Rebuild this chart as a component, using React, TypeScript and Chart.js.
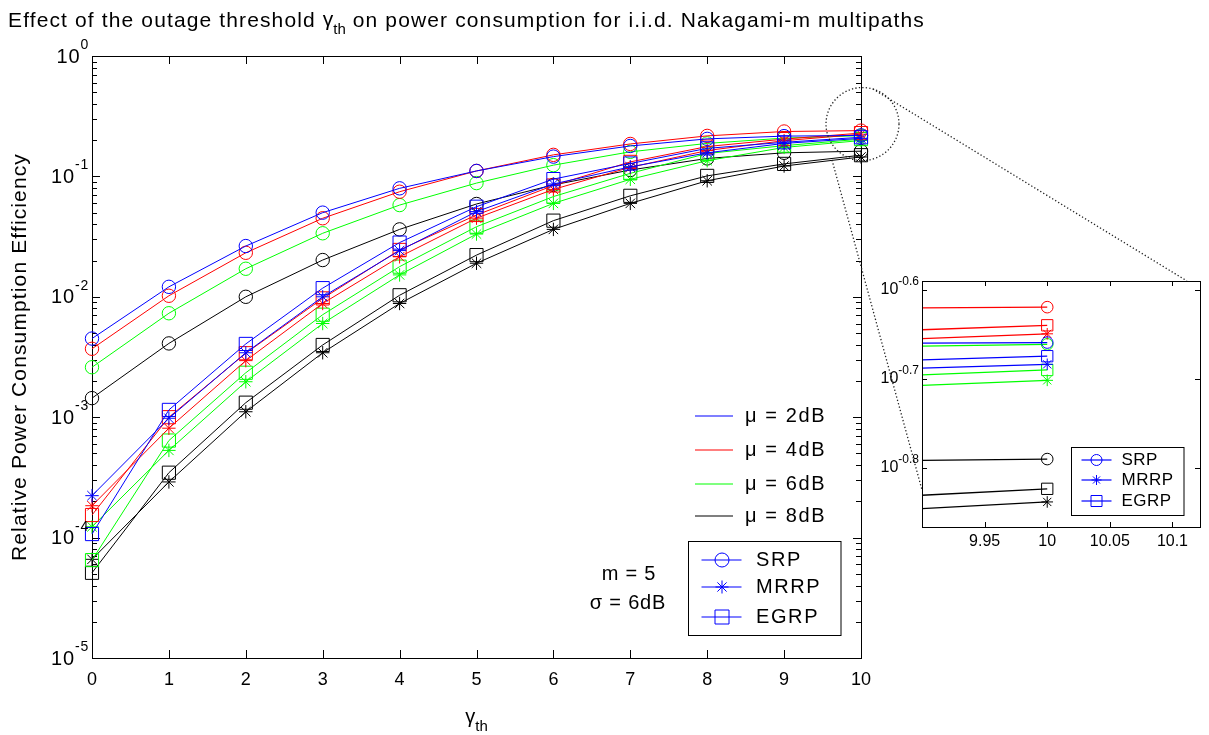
import React, { useEffect, useRef } from "react";
import { Chart, registerables } from "chart.js";

Chart.register(...registerables);

// ---------------- data ----------------
const GAMMA_TH = [0, 1, 2, 3, 4, 5, 6, 7, 8, 9, 10];

// mu = 2 dB
const SRP_MU2 = [4.5e-3, 1.21e-2, 2.64e-2, 5.0e-2, 7.96e-2, 0.111, 0.146, 0.179, 0.205, 0.216, 0.219];
const MRRP_MU2 = [2.23e-4, 9.8e-4, 3.43e-3, 1.0e-2, 2.42e-2, 5.1e-2, 8.65e-2, 0.12, 0.157, 0.188, 0.207];
const EGRP_MU2 = [1.07e-4, 1.15e-3, 4.06e-3, 1.18e-2, 2.82e-2, 5.6e-2, 9.5e-2, 0.128, 0.171, 0.192, 0.2114];
// mu = 4 dB
const SRP_MU4 = [3.7e-3, 1.02e-2, 2.32e-2, 4.49e-2, 7.46e-2, 0.111, 0.151, 0.186, 0.217, 0.236, 0.24];
const MRRP_MU4 = [1.84e-4, 8.1e-4, 2.95e-3, 8.8e-3, 2.15e-2, 4.5e-2, 7.8e-2, 0.119, 0.164, 0.198, 0.224];
const EGRP_MU4 = [1.54e-4, 1.0e-3, 3.4e-3, 9.7e-3, 2.45e-2, 4.78e-2, 8.4e-2, 0.132, 0.177, 0.204, 0.229];
// mu = 6 dB
const SRP_MU6 = [2.6e-3, 7.3e-3, 1.71e-2, 3.37e-2, 5.78e-2, 8.8e-2, 0.124, 0.16, 0.188, 0.208, 0.218];
const MRRP_MU6 = [1.23e-4, 5.3e-4, 1.97e-3, 6.0e-3, 1.52e-2, 3.32e-2, 5.97e-2, 9.46e-2, 0.135, 0.174, 0.1986];
const EGRP_MU6 = [6.5e-5, 6.4e-4, 2.34e-3, 7.1e-3, 1.78e-2, 3.82e-2, 6.8e-2, 0.106, 0.155, 0.18, 0.204];
// mu = 8 dB
const SRP_MU8 = [1.44e-3, 4.1e-3, 1.0e-2, 2.02e-2, 3.63e-2, 5.9e-2, 8.5e-2, 0.113, 0.141, 0.157, 0.162];
const MRRP_MU8 = [6.6e-5, 2.9e-4, 1.11e-3, 3.43e-3, 8.8e-3, 1.9e-2, 3.63e-2, 5.97e-2, 9.2e-2, 0.122, 0.145];
const EGRP_MU8 = [5.1e-5, 3.46e-4, 1.32e-3, 3.98e-3, 1.03e-2, 2.22e-2, 4.29e-2, 6.9e-2, 0.101, 0.127, 0.15];

const MU_LABELS = ["\u03bc = 2dB", "\u03bc = 4dB", "\u03bc = 6dB", "\u03bc = 8dB"];
const MU_COLORS = ["#0000ff", "#ff0000", "#00ff00", "#000000"];
const SCHEME_LABELS = ["SRP", "MRRP", "EGRP"];
const PARAM_LABELS = ["m = 5", "\u03c3 = 6dB"];

const MAIN_X_TICKS = [0, 1, 2, 3, 4, 5, 6, 7, 8, 9, 10];
const MAIN_Y_DECADES = [-5, -4, -3, -2, -1, 0];
const INSET_X_TICKS = [9.95, 10, 10.05, 10.1];
const INSET_X_LABELS = ["9.95", "10", "10.05", "10.1"];
const INSET_Y_EXPONENTS = [-0.6, -0.7, -0.8];
const INSET_Y_LABELS = ["-0.6", "-0.7", "-0.8"];

const TITLE_PRE = "Effect of the outage threshold ";
const TITLE_POST = " on power consumption for i.i.d. Nakagami-m multipaths";
const Y_TITLE = "Relative Power Consumption Efficiency";

// ---------------- styling ----------------
const FONT = '"Liberation Sans", Arial, Helvetica, sans-serif';
const POINT_STYLES = ["circle", "star", "rect"];

const GROUPS = [
  [SRP_MU2, MRRP_MU2, EGRP_MU2],
  [SRP_MU4, MRRP_MU4, EGRP_MU4],
  [SRP_MU6, MRRP_MU6, EGRP_MU6],
  [SRP_MU8, MRRP_MU8, EGRP_MU8],
];

function buildDatasets(radii: number[], lineWidth: number, clip: any) {
  const out: any[] = [];
  GROUPS.forEach((g, mi) =>
    g.forEach((vals, si) =>
      out.push({
        label: `${SCHEME_LABELS[si]} ${MU_LABELS[mi]}`,
        data: GAMMA_TH.map((x, i) => ({ x, y: vals[i] })),
        borderColor: MU_COLORS[mi],
        backgroundColor: "rgba(0,0,0,0)",
        borderWidth: lineWidth,
        pointStyle: POINT_STYLES[si],
        pointRadius: radii[si],
        pointBorderColor: MU_COLORS[mi],
        pointBackgroundColor: "rgba(0,0,0,0)",
        pointBorderWidth: 1,
        tension: 0,
        fill: false,
        clip,
      })
    )
  );
  return out;
}

function setFont(ctx: CanvasRenderingContext2D, size: number, spacing = 0) {
  ctx.font = `${size}px ${FONT}`;
  (ctx as any).letterSpacing = `${spacing}px`;
}

function spacingToFit(ctx: CanvasRenderingContext2D, text: string, size: number, target: number) {
  setFont(ctx, size, 0);
  const w = ctx.measureText(text).width;
  return Math.max(0, (target - w) / text.length);
}

function drawPow10(
  ctx: CanvasRenderingContext2D,
  exp: string,
  xRight: number,
  yMid: number,
  baseSize: number,
  expSize: number,
  raise: number,
  spacing = 0
) {
  setFont(ctx, expSize, spacing);
  const we = ctx.measureText(exp).width;
  setFont(ctx, baseSize, spacing);
  const wb = ctx.measureText("10").width;
  ctx.textAlign = "left";
  ctx.textBaseline = "middle";
  ctx.fillText("10", xRight - we - wb, yMid);
  setFont(ctx, expSize, spacing);
  ctx.textBaseline = "alphabetic";
  ctx.fillText(exp, xRight - we, yMid - raise);
}

function drawMarker(ctx: CanvasRenderingContext2D, style: string, x: number, y: number, r: number) {
  ctx.beginPath();
  if (style === "circle") {
    ctx.arc(x, y, r, 0, Math.PI * 2);
  } else if (style === "rect") {
    ctx.rect(x - r, y - r, 2 * r, 2 * r);
  } else {
    for (let k = 0; k < 4; k++) {
      const a = (k * Math.PI) / 4;
      ctx.moveTo(x - Math.cos(a) * r, y - Math.sin(a) * r);
      ctx.lineTo(x + Math.cos(a) * r, y + Math.sin(a) * r);
    }
  }
  ctx.stroke();
}

// ---------------- main chart decorations ----------------
const mainDecor = {
  id: "mainDecor",
  beforeDatasetsDraw(chart: any) {
    const { ctx, chartArea: ca, scales } = chart;
    const xs = scales.x;
    const ys = scales.y;
    ctx.save();
    ctx.strokeStyle = "#000";
    ctx.lineWidth = 1;
    ctx.beginPath();
    for (const t of MAIN_X_TICKS) {
      const px = Math.round(xs.getPixelForValue(t)) + 0.5;
      ctx.moveTo(px, ca.bottom);
      ctx.lineTo(px, ca.bottom - 8);
      ctx.moveTo(px, ca.top);
      ctx.lineTo(px, ca.top + 8);
    }
    for (const e of MAIN_Y_DECADES) {
      const py = Math.round(ys.getPixelForValue(Math.pow(10, e))) + 0.5;
      ctx.moveTo(ca.left, py);
      ctx.lineTo(ca.left + 8, py);
      ctx.moveTo(ca.right, py);
      ctx.lineTo(ca.right - 8, py);
      if (e < 0) {
        for (let m = 2; m <= 9; m++) {
          const pm = Math.round(ys.getPixelForValue(m * Math.pow(10, e))) + 0.5;
          ctx.moveTo(ca.left, pm);
          ctx.lineTo(ca.left + 5, pm);
          ctx.moveTo(ca.right, pm);
          ctx.lineTo(ca.right - 5, pm);
        }
      }
    }
    ctx.stroke();
    ctx.strokeRect(ca.left + 0.5, ca.top + 0.5, ca.right - ca.left, ca.bottom - ca.top);
    ctx.restore();
  },
  afterDraw(chart: any) {
    const { ctx, chartArea: ca, scales } = chart;
    const xs = scales.x;
    const ys = scales.y;
    ctx.save();
    ctx.fillStyle = "#000";

    // x tick labels
    setFont(ctx, 18);
    ctx.textAlign = "center";
    ctx.textBaseline = "middle";
    MAIN_X_TICKS.forEach((t) => ctx.fillText(String(t), xs.getPixelForValue(t), ca.bottom + 22));

    // y tick labels
    for (const e of MAIN_Y_DECADES) {
      drawPow10(ctx, String(e), ca.left - 3, ys.getPixelForValue(Math.pow(10, e)) + 1, 20, 14, 8, 0.8);
    }

    // title (fit to reference width)
    const tSize = 21;
    setFont(ctx, tSize, 0);
    const wG = ctx.measureText("\u03b3").width;
    setFont(ctx, 15, 0);
    const wTh = ctx.measureText("th").width;
    const sp = spacingToFit(ctx, TITLE_PRE + TITLE_POST, tSize, 917 - wG - wTh);
    ctx.textAlign = "left";
    ctx.textBaseline = "alphabetic";
    let tx = 8;
    const tyBase = 27;
    setFont(ctx, tSize, sp);
    ctx.fillText(TITLE_PRE, tx, tyBase);
    tx += ctx.measureText(TITLE_PRE).width;
    setFont(ctx, tSize, 0);
    ctx.fillText("\u03b3", tx, tyBase - 1);
    tx += wG;
    setFont(ctx, 15, 0);
    ctx.fillText("th", tx, tyBase + 7);
    tx += wTh;
    setFont(ctx, tSize, sp);
    ctx.fillText(TITLE_POST, tx, tyBase);

    // x axis title
    setFont(ctx, 20);
    const cx = (ca.left + ca.right) / 2;
    const wg = ctx.measureText("\u03b3").width;
    setFont(ctx, 15);
    const wth = ctx.measureText("th").width;
    const gx = cx - (wg + wth) / 2;
    setFont(ctx, 20);
    ctx.fillText("\u03b3", gx, 723);
    setFont(ctx, 15);
    ctx.fillText("th", gx + wg, 731);

    // y axis title
    ctx.save();
    ctx.translate(20, (ca.top + ca.bottom) / 2);
    ctx.rotate(-Math.PI / 2);
    const ysp = spacingToFit(ctx, Y_TITLE, 21, 408);
    setFont(ctx, 21, ysp);
    ctx.textAlign = "center";
    ctx.textBaseline = "middle";
    ctx.fillText(Y_TITLE, 0, 0);
    ctx.restore();

    // mu legend (no box)
    const muY = [416, 450, 484, 516];
    MU_LABELS.forEach((lab, i) => {
      ctx.strokeStyle = MU_COLORS[i];
      ctx.lineWidth = 1.2;
      ctx.beginPath();
      ctx.moveTo(695, muY[i]);
      ctx.lineTo(733, muY[i]);
      ctx.stroke();
      ctx.fillStyle = "#000";
      setFont(ctx, 20, 1.6);
      ctx.textAlign = "left";
      ctx.textBaseline = "middle";
      ctx.fillText(lab, 745, muY[i]);
    });

    // scheme legend (boxed)
    ctx.fillStyle = "#fff";
    ctx.fillRect(688.5, 541.5, 152.5, 94);
    ctx.strokeStyle = "#000";
    ctx.lineWidth = 1;
    ctx.strokeRect(688.5, 541.5, 152.5, 94);
    const sy = [560, 587, 617];
    const mr = [7, 6.5, 7];
    SCHEME_LABELS.forEach((lab, i) => {
      ctx.strokeStyle = "#0000ff";
      ctx.lineWidth = 1.2;
      ctx.beginPath();
      ctx.moveTo(701.5, sy[i]);
      ctx.lineTo(741.5, sy[i]);
      ctx.stroke();
      ctx.lineWidth = 1;
      drawMarker(ctx, POINT_STYLES[i], 722, sy[i], mr[i]);
      ctx.fillStyle = "#000";
      setFont(ctx, 20, 1.6);
      ctx.textAlign = "left";
      ctx.textBaseline = "middle";
      ctx.fillText(lab, 756, sy[i]);
    });

    // parameters text
    ctx.fillStyle = "#000";
    setFont(ctx, 20, 0.8);
    ctx.textAlign = "center";
    ctx.textBaseline = "middle";
    ctx.fillText(PARAM_LABELS[0], 629, 574);
    ctx.fillText(PARAM_LABELS[1], 628, 603);

    // zoom annotation: dotted circle + connector lines
    ctx.strokeStyle = "#222";
    ctx.lineWidth = 1.3;
    ctx.setLineDash([1.3, 2.2]);
    const ccx = xs.getPixelForValue(10) + 1.5;
    const ccy = ys.getPixelForValue(Math.pow(10, -0.565));
    ctx.beginPath();
    ctx.arc(ccx, ccy, 36.5, 0, Math.PI * 2);
    ctx.stroke();
    ctx.beginPath();
    ctx.moveTo(873, 89);
    ctx.lineTo(1187, 281);
    ctx.moveTo(832, 160);
    ctx.lineTo(922, 490);
    ctx.stroke();
    ctx.setLineDash([]);
    ctx.restore();
  },
};

// ---------------- inset decorations ----------------
const insetDecor = {
  id: "insetDecor",
  beforeDraw(chart: any) {
    const { ctx, chartArea: ca } = chart;
    ctx.save();
    ctx.fillStyle = "#fff";
    ctx.fillRect(ca.left, ca.top, ca.right - ca.left, ca.bottom - ca.top);
    ctx.restore();
  },
  afterDatasetsDraw(chart: any) {
    const { ctx, chartArea: ca, scales } = chart;
    const xs = scales.x;
    const ys = scales.y;
    ctx.save();
    ctx.strokeStyle = "#000";
    ctx.lineWidth = 1;
    ctx.beginPath();
    for (const t of INSET_X_TICKS) {
      const px = Math.round(xs.getPixelForValue(t)) + 0.5;
      ctx.moveTo(px, ca.bottom);
      ctx.lineTo(px, ca.bottom - 5);
      ctx.moveTo(px, ca.top);
      ctx.lineTo(px, ca.top + 5);
    }
    for (const e of INSET_Y_EXPONENTS) {
      const py = Math.round(ys.getPixelForValue(Math.pow(10, e))) + 0.5;
      ctx.moveTo(ca.left, py);
      ctx.lineTo(ca.left + 5, py);
      ctx.moveTo(ca.right, py);
      ctx.lineTo(ca.right - 5, py);
    }
    ctx.stroke();
    ctx.strokeRect(ca.left + 0.5, ca.top + 0.5, ca.right - ca.left, ca.bottom - ca.top);

    ctx.fillStyle = "#000";
    setFont(ctx, 16);
    ctx.textAlign = "center";
    ctx.textBaseline = "middle";
    INSET_X_TICKS.forEach((t, i) => ctx.fillText(INSET_X_LABELS[i], xs.getPixelForValue(t), ca.bottom + 15));
    INSET_Y_EXPONENTS.forEach((e, i) =>
      drawPow10(ctx, INSET_Y_LABELS[i], ca.left - 3, ys.getPixelForValue(Math.pow(10, e)), 16, 12, 5)
    );

    // legend
    ctx.fillStyle = "#fff";
    ctx.fillRect(1071.5, 447.5, 112.5, 68);
    ctx.strokeStyle = "#000";
    ctx.strokeRect(1071.5, 447.5, 112.5, 68);
    const ly = [460, 480, 501];
    const mr = [5.5, 5, 5.5];
    SCHEME_LABELS.forEach((lab, i) => {
      ctx.strokeStyle = "#0000ff";
      ctx.lineWidth = 1.2;
      ctx.beginPath();
      ctx.moveTo(1081.5, ly[i]);
      ctx.lineTo(1111.5, ly[i]);
      ctx.stroke();
      ctx.lineWidth = 1;
      drawMarker(ctx, POINT_STYLES[i], 1096.5, ly[i], mr[i]);
      ctx.fillStyle = "#000";
      setFont(ctx, 17, 0.5);
      ctx.textAlign = "left";
      ctx.textBaseline = "middle";
      ctx.fillText(lab, 1121.5, ly[i]);
    });
    ctx.restore();
  },
};

function mainConfig(): any {
  return {
    type: "line",
    data: { datasets: buildDatasets([6.7, 6.7, 9.3], 1, false) },
    options: {
      responsive: false,
      animation: false,
      events: [],
      devicePixelRatio: 1,
      layout: { padding: { left: 92, top: 56, right: 348, bottom: 77 } },
      plugins: { legend: { display: false }, tooltip: { enabled: false }, title: { display: false } },
      scales: {
        x: { type: "linear", min: 0, max: 10, display: false },
        y: { type: "logarithmic", min: 1e-5, max: 1, display: false },
      },
    },
    plugins: [mainDecor],
  };
}

function insetConfig(): any {
  return {
    type: "line",
    data: { datasets: buildDatasets([5.8, 5.8, 8.0], 1.3, 0) },
    options: {
      responsive: false,
      animation: false,
      events: [],
      devicePixelRatio: 1,
      layout: { padding: { left: 922, top: 281, right: 8, bottom: 208 } },
      plugins: { legend: { display: false }, tooltip: { enabled: false }, title: { display: false } },
      scales: {
        x: { type: "linear", min: 9.9, max: 10.122, display: false },
        y: { type: "logarithmic", min: Math.pow(10, -0.8668), max: Math.pow(10, -0.5904), display: false },
      },
    },
    plugins: [insetDecor],
  };
}

export default function App() {
  const mainRef = useRef<HTMLCanvasElement>(null);
  const insetRef = useRef<HTMLCanvasElement>(null);
  useEffect(() => {
    const main = new Chart(mainRef.current as HTMLCanvasElement, mainConfig());
    const inset = new Chart(insetRef.current as HTMLCanvasElement, insetConfig());
    return () => {
      main.destroy();
      inset.destroy();
    };
  }, []);
  const cs: React.CSSProperties = { position: "absolute", left: 0, top: 0, width: 1209, height: 735 };
  return (
    <div style={{ position: "fixed", left: 0, top: 0, width: 1209, height: 735, background: "#fff" }}>
      <canvas ref={mainRef} width={1209} height={735} style={cs} />
      <canvas ref={insetRef} width={1209} height={735} style={cs} />
    </div>
  );
}
